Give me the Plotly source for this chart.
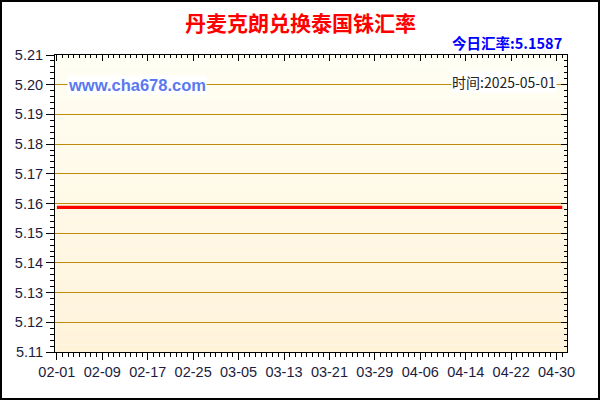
import plotly.graph_objects as go

# ---- data ----
dates = ["2025-02-01", "2025-05-01"]
rates = [5.1587, 5.1587]
title_text = "丹麦克朗兑换泰国铢汇率"
today_label = "今日汇率:5.1587"
time_label = "时间:2025-05-01"
site_label = "www.cha678.com"
x_range = ["2025-01-31 16:00", "2025-05-01 20:00"]
y_range = [5.11, 5.21]

# ---- layout geometry ----
W, H = 600, 400
L, R, T, B = 55, 33, 55, 48
pw, ph = W - L - R, H - T - B

def px_x(p):
    return (p - L) / pw

def px_y(p):
    return (H - B - p) / ph

fig = go.Figure()
fig.add_trace(go.Scatter(x=dates, y=rates, mode="lines",
                         line=dict(color="#FF0000", width=3.2),
                         hoverinfo="skip", showlegend=False))
fig.add_trace(go.Scatter(x=dates, y=rates, mode="lines", xaxis="x2", yaxis="y2",
                         line=dict(color="rgba(0,0,0,0)", width=0),
                         hoverinfo="skip", showlegend=False))

shapes = []
# gradient background bands
n = 40
top_c = (255, 254, 243)
bot_c = (255, 243, 218)
for i in range(n):
    t = i / (n - 1)
    c = tuple(round(top_c[k] + (bot_c[k] - top_c[k]) * t) for k in range(3))
    shapes.append(dict(type="rect", xref="paper", yref="paper",
                       x0=0, x1=1, y0=1 - (i + 1) / n, y1=1 - i / n,
                       fillcolor="rgb(%d,%d,%d)" % c, line=dict(width=0),
                       layer="below"))
# outer border
shapes.append(dict(type="rect", xref="paper", yref="paper",
                   x0=px_x(1), x1=px_x(599), y0=px_y(399), y1=px_y(1),
                   line=dict(color="black", width=2), fillcolor="rgba(0,0,0,0)"))

tickfont = dict(family="Liberation Sans, Arial", size=14.5, color="#1c1c40")
grid_c = "#C08A0C"

fig.update_layout(
    width=W, height=H,
    margin=dict(l=L, r=R, t=T, b=B),
    paper_bgcolor="white", plot_bgcolor="rgba(0,0,0,0)",
    shapes=shapes,
    xaxis=dict(type="date", range=x_range, tick0="2025-02-01", dtick=8 * 86400000,
               tickformat="%m-%d", tickfont=tickfont,
               ticks="outside", ticklen=7, tickcolor="black",
               showline=True, linecolor="black", linewidth=1,
               showgrid=False, zeroline=False,
               minor=dict(dtick=86400000, ticks="outside", ticklen=4, tickcolor="black", showgrid=False)),
    xaxis2=dict(type="date", range=x_range, overlaying="x", side="top",
                tick0="2025-02-01", dtick=8 * 86400000, showticklabels=False,
                ticks="inside", ticklen=6, tickcolor="black",
                showline=True, linecolor="black", linewidth=1, showgrid=False, zeroline=False,
                minor=dict(dtick=86400000, ticks="inside", ticklen=3, tickcolor="black", showgrid=False)),
    yaxis=dict(range=y_range, dtick=0.01, tick0=5.11, tickformat=".2f", tickfont=tickfont,
               ticks="outside", ticklen=8, tickcolor="black",
               showline=True, linecolor="black", linewidth=1,
               showgrid=True, gridcolor=grid_c, gridwidth=1, zeroline=False,
               minor=dict(dtick=0.002, ticks="outside", ticklen=4, tickcolor="black", showgrid=False)),
    yaxis2=dict(range=y_range, overlaying="y", side="right", dtick=0.01, tick0=5.11,
                showticklabels=False, ticks="inside", ticklen=6, tickcolor="black",
                showline=True, linecolor="black", linewidth=1, showgrid=False, zeroline=False,
                minor=dict(dtick=0.002, ticks="inside", ticklen=3, tickcolor="black", showgrid=False)),
    annotations=[
        dict(text="<b>%s</b>" % title_text, xref="paper", yref="paper",
             x=px_x(300), y=px_y(22), xanchor="center", yanchor="middle", showarrow=False,
             font=dict(family="Noto Sans CJK SC", size=21, color="#FF0000")),
        dict(text="<b>%s</b>" % today_label, xref="paper", yref="paper",
             x=px_x(564), y=px_y(43), xanchor="right", yanchor="middle", showarrow=False,
             font=dict(family="Noto Sans CJK SC", size=14.5, color="#0000FF")),
        dict(text="<b>%s</b>" % site_label, xref="paper", yref="paper",
             x=px_x(67), y=px_y(85), xanchor="left", yanchor="middle", showarrow=False,
             bgcolor="white", borderpad=0,
             font=dict(family="Liberation Sans, Arial", size=16.5, color="#5A78F0")),
        dict(text=time_label, xref="paper", yref="paper",
             x=px_x(557), y=px_y(82), xanchor="right", yanchor="middle", showarrow=False,
             bgcolor="white", borderpad=0,
             font=dict(family="Noto Sans CJK SC", size=14, color="#222222")),
    ],
)

fig.write_html("out.html", config={"displayModeBar": False},
               post_script="document.body.style.margin='0';")
